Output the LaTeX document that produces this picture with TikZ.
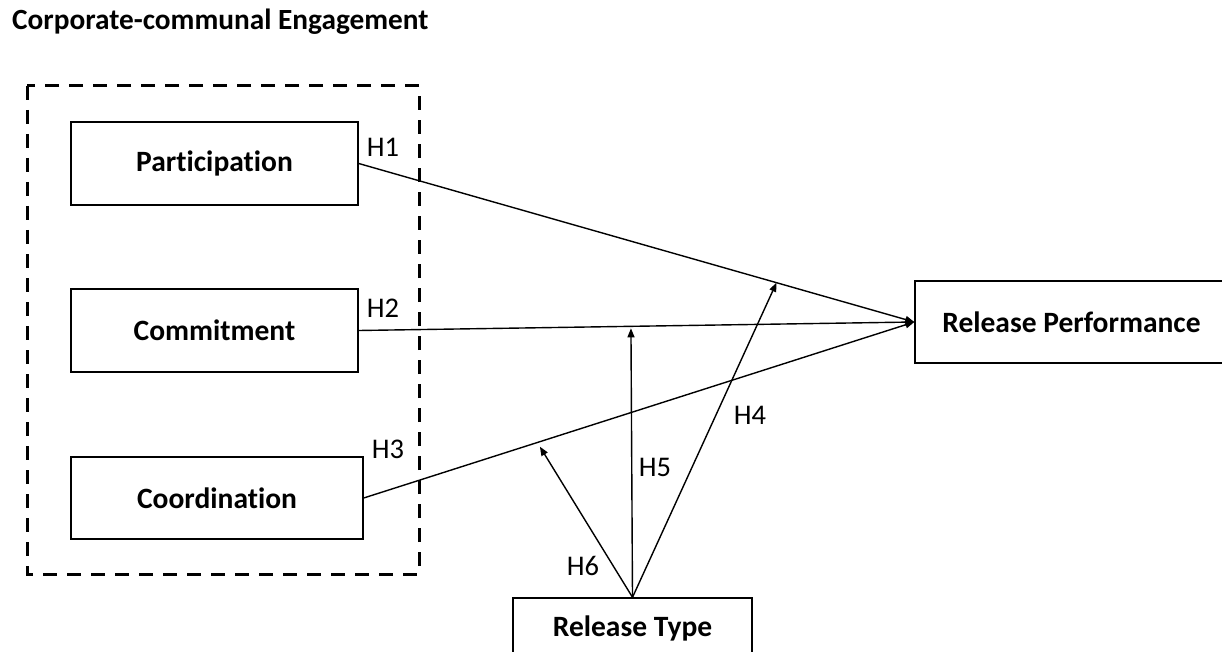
\documentclass[tikz,border=0pt]{standalone}
\usepackage{fontspec}
\setmainfont[Ligatures={NoCommon}]{Carlito}
\usetikzlibrary{arrows.meta,calc}

\tikzset{
  var/.style={draw, line width=1.4pt, rectangle, inner sep=0pt,
    font=\fontsize{29.5}{34}\selectfont\bfseries},
  link/.style={line width=1.4pt, -{Triangle[length=9pt,width=7pt]}},
  hyp/.style={font=\fontsize{28.5}{33}\selectfont, inner sep=0pt},
  group/.style={line width=3pt, dash pattern=on 14pt off 10pt}
}

\begin{document}
\begin{tikzpicture}[x=1pt,y=-1pt]
  \useasboundingbox (0,0) rectangle (1222,652);
  \clip (0,0) rectangle (1222,652);

  % heading of the construct group
  \node[anchor=base west, inner sep=0pt, font=\fontsize{29.3}{34}\selectfont\bfseries]
    (title) at (12,30) {Corporate-communal Engagement};

  % dashed frame round the three engagement dimensions
  \draw[group] (27,86) rectangle (419,574);

  % variables
  \node[var, minimum width=287pt, minimum height=83pt] (part)  at (214.5,163.5) {Participation};
  \node[var, minimum width=287pt, minimum height=83pt] (comm)  at (214.5,330.5) {Commitment};
  \node[var, minimum width=292pt, minimum height=82pt] (coord) at (217,498)    {Coordination};
  \node[var, minimum width=313pt, minimum height=82pt] (rp)    at (1071.5,322) {Release Performance};
  \node[var, minimum width=239pt, minimum height=60pt] (rt)    at (632.5,628)  {Release Type};

  % direct effects
  \draw[link] (part.east)  -- (rp.west);
  \draw[link] (comm.east)  -- (rp.west);
  \draw[link] (coord.east) -- (rp.west);

  % moderation targets on the direct paths
  \coordinate (m4) at ($(part.east)!0.752!(rp.west)$);
  \coordinate (m5) at ($(comm.east)!0.49!(rp.west)+(0,2)$);
  \coordinate (m6) at ($(coord.east)!0.32!(rp.west)+(0,5)$);

  \draw[link] (rt.north) -- (m4);
  \draw[link] (rt.north) -- (m5);
  \draw[link] (rt.north) -- (m6);

  % hypothesis labels
  \node[hyp] (h1) at (383,147) {H1};
  \node[hyp] (h2) at (383,308) {H2};
  \node[hyp] (h3) at (388,449) {H3};
  \node[hyp] (h4) at (750,415) {H4};
  \node[hyp] (h5) at (655,467) {H5};
  \node[hyp] (h6) at (583,566) {H6};
\end{tikzpicture}
\end{document}
